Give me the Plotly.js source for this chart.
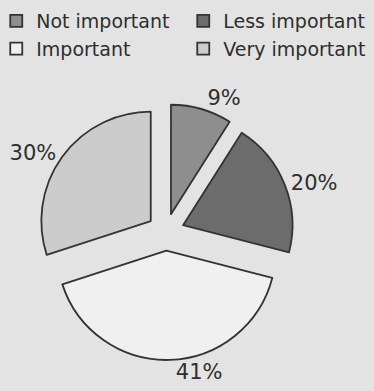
<!DOCTYPE html>
<html>
<head>
<meta charset="utf-8">
<script src="https://cdn.plot.ly/plotly-3.0.1.min.js"></script>
<style>html,body{margin:0;padding:0;background:#e3e3e3;}#chart{width:374px;height:391px;}</style>
</head>
<body>
<div id="chart"></div>
<script>
const categories = ["Not important", "Less important", "Important", "Very important"];
const values = [9, 20, 41, 30];
const colors = ["#8e8e8e", "#6c6c6c", "#f0f0f0", "#cccccc"];
const pulls = [0.17, 0.17, 0.17, 0.17];

const trace = {
  type: "pie",
  labels: categories,
  values: values,
  sort: false,
  direction: "clockwise",
  rotation: 0,
  pull: pulls,
  marker: {colors: colors, line: {color: "#333333", width: 1.8}},
  textinfo: "percent",
  texttemplate: "%{percent:.0%}",
  textposition: "outside",
  outsidetextfont: {family: "DejaVu Sans, sans-serif", size: 21, color: "#2e2e2e"},
  hoverinfo: "none",
  domain: {x: [0.1008, 0.7858], y: [0.096, 0.8885]}
};

const layout = {
  width: 374, height: 391,
  margin: {l: 0, r: 0, t: 68, b: 0, autoexpand: false},
  paper_bgcolor: "#e3e3e3",
  plot_bgcolor: "#e3e3e3",
  showlegend: true,
  legend: {
    orientation: "h",
    x: -0.01, y: 1.0, xanchor: "left", yanchor: "bottom",
    entrywidth: 142, entrywidthmode: "pixels",
    traceorder: "normal",
    font: {family: "DejaVu Sans, sans-serif", size: 19, color: "#2e2e2e"},
    bgcolor: "rgba(0,0,0,0)"
  }
};

Plotly.newPlot("chart", [trace], layout, {displayModeBar: false, staticPlot: true});
</script>
</body>
</html>
